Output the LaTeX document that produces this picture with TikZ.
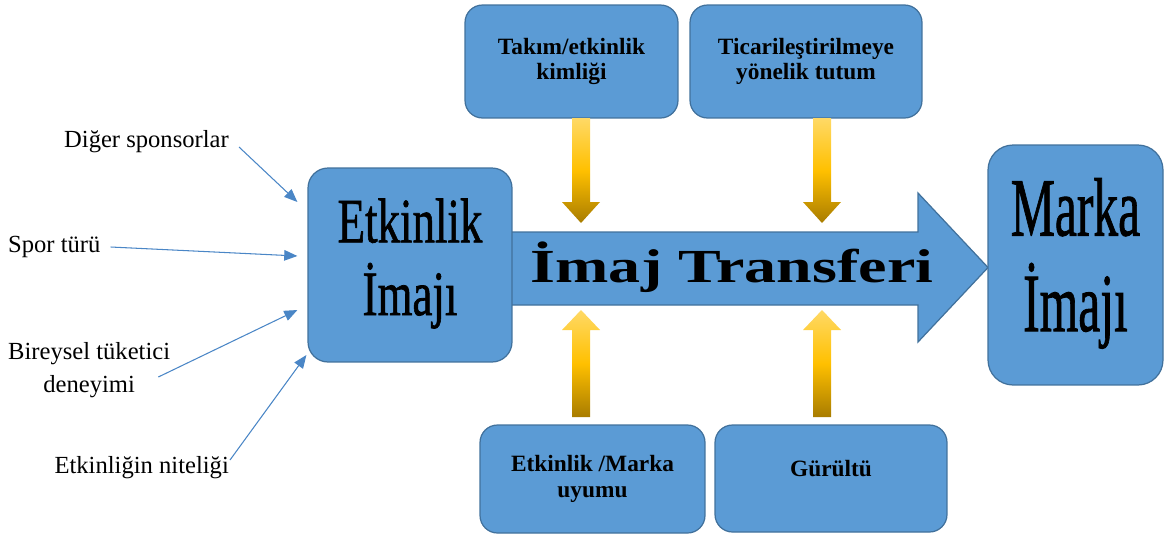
\documentclass[tikz,border=0pt]{standalone}
\usepackage{fontspec}
\setmainfont{Liberation Serif}
\newfontfamily\artfont[FakeBold=1.2]{Liberation Serif}
\usetikzlibrary{arrows.meta}
\definecolor{boxblue}{HTML}{5B9BD5}
\definecolor{boxedge}{HTML}{41719C}
\definecolor{linkblue}{HTML}{4A86C6}
\definecolor{goldlight}{HTML}{FFD966}
\definecolor{goldmid}{HTML}{FFC000}
\definecolor{golddark}{HTML}{A87C00}
\tikzset{
  bluebox/.style={draw=boxedge,fill=boxblue,line width=0.7pt,rounded corners=0.35cm,align=center,font=\fontsize{13.3}{14.5}\selectfont\bfseries},
  bigbox/.style={draw=boxedge,fill=boxblue,line width=0.7pt},
  infl/.style={font=\fontsize{14}{19}\selectfont,align=center},
  inarrow/.style={draw=linkblue,line width=0.6pt,-{Triangle[length=7.5pt,width=6pt]}},
  goldarrow/.style={top color=goldlight,bottom color=golddark,middle color=goldmid}
}
\begin{document}
\begin{tikzpicture}[x=0.02cm,y=-0.02cm]
\useasboundingbox (0,0) rectangle (1165,535);
% transfer arrow
\filldraw[fill=boxblue,draw=boxedge,line width=0.7pt] (420,232) -- (918,232) -- (918,193) -- (988,267.5) -- (918,342) -- (918,305) -- (420,305) -- cycle;
\node[anchor=base,font=\fontsize{27}{30}\selectfont\bfseries] (tr) at (732,282) {\scalebox{1.35}[1]{İmaj Transferi}};
% images
\node[bigbox,rounded corners=0.4cm,minimum width=4.08cm,minimum height=3.88cm] (etk) at (410,265) {\scalebox{0.71}[1]{\artfont\fontsize{36}{39}\selectfont\begin{tabular}{@{}c@{}}Etkinlik\\İmajı\end{tabular}}};
\node[bigbox,rounded corners=0.5cm,minimum width=3.5cm,minimum height=4.8cm] (mrk) at (1075.5,265) {\scalebox{0.6}[1]{\artfont\fontsize{47}{52}\selectfont\begin{tabular}{@{}c@{}}Marka\\İmajı\end{tabular}}};
% moderators
\node[bluebox,minimum width=4.26cm,minimum height=2.26cm] (tk) at (571.5,61.5) {Takım/etkinlik\\kimliği};
\node[bluebox,minimum width=4.64cm,minimum height=2.26cm] (tc) at (806,61.5) {Ticarileştirilmeye\\yönelik tutum};
\node[bluebox,minimum width=4.5cm,minimum height=2.16cm] (uy) at (592.5,479) {Etkinlik /Marka\\uyumu};
\node[bluebox,minimum width=4.64cm,minimum height=2.14cm,text depth=0.4cm] (gr) at (831,478.5) {Gürültü};
\foreach \x/\ya/\yh/\yb in {581/118/202/223, 822/118/202/223, 581/417/330/310, 822/417/330/310}
  \shade[goldarrow] ({\x-9},\ya) -- ({\x-9},\yh) -- ({\x-19},\yh) -- (\x,\yb) -- ({\x+19},\yh) -- ({\x+9},\yh) -- ({\x+9},\ya) -- cycle;
% event image factors
\node[infl,anchor=east] (ds) at (235,142) {Diğer sponsorlar};
\node[infl,anchor=west] (sp) at (2,247) {Spor türü};
\node[infl,anchor=west] (bt) at (2,370) {Bireysel tüketici\\deneyimi};
\node[infl,anchor=east] (en) at (235,468) {Etkinliğin niteliği};
\draw[inarrow] ([shift={(4,5)}]ds.east) -- ([shift={(-10,-63)}]etk.west);
\draw[inarrow] ([shift={(4,0)}]sp.east) -- ([shift={(-10,-9)}]etk.west);
\draw[inarrow] ([shift={(-18,7)}]bt.east) -- ([shift={(-10,45)}]etk.west);
\draw[inarrow] ([shift={(-5,-8)}]en.east) -- ([shift={(-1,90)}]etk.west);
\end{tikzpicture}
\end{document}
